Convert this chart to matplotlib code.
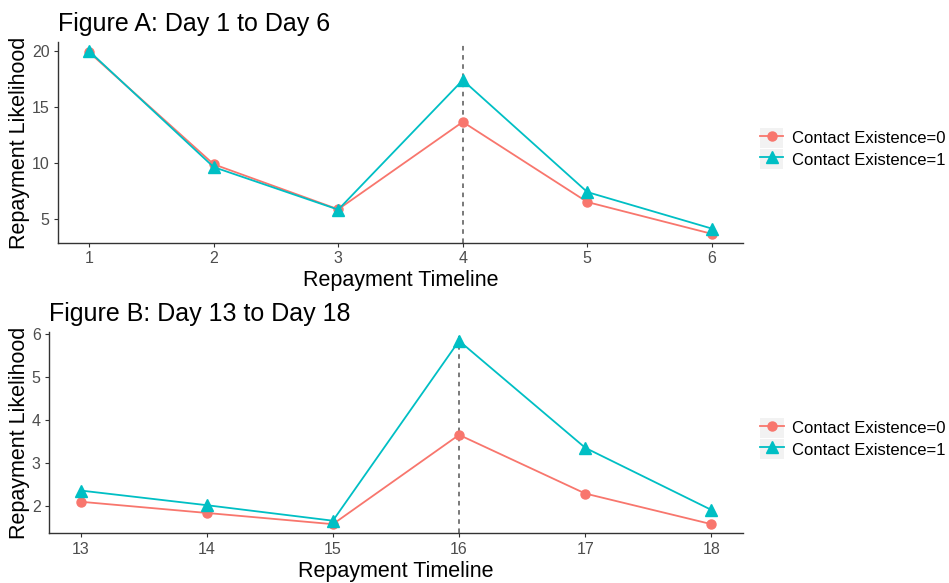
import matplotlib.pyplot as plt
from matplotlib.patches import Patch
from matplotlib.legend_handler import HandlerTuple

plt.rcParams['font.family'] = ['Liberation Sans', 'DejaVu Sans']

# Figure A data (days 1-6)
days_a = [1, 2, 3, 4, 5, 6]
contact0_a = [19.85, 9.85, 5.83, 13.63, 6.48, 3.64]
contact1_a = [19.95, 9.6, 5.8, 17.36, 7.37, 4.11]

# Figure B data (days 13-18)
days_b = [13, 14, 15, 16, 17, 18]
contact0_b = [2.11, 1.85, 1.59, 3.66, 2.30, 1.59]
contact1_b = [2.37, 2.03, 1.67, 5.84, 3.36, 1.92]

labels = ["Contact Existence=0", "Contact Existence=1"]
red = "#F8766D"
teal = "#00BFC4"

fig = plt.figure(figsize=(9.49, 5.83), dpi=100)
ax_a = fig.add_axes([0.0611, 0.5832, 0.7218, 0.3448])
ax_b = fig.add_axes([0.0516, 0.0852, 0.7313, 0.3459])


def draw_panel(ax, days, y0, y1, vline, title):
    ax.axvline(vline, color="#555555", linestyle=(0, (3, 3)), linewidth=1.1, zorder=1)
    l0, = ax.plot(days, y0, color=red, marker="o", markersize=6.5, linewidth=1.3, zorder=3)
    l1, = ax.plot(days, y1, color=teal, marker="^", markersize=8.5, linewidth=1.3, zorder=3)

    span = days[-1] - days[0]
    ax.set_xlim(days[0] - 0.05 * span, days[-1] + 0.05 * span)
    lo = min(min(y0), min(y1))
    hi = max(max(y0), max(y1))
    ax.set_ylim(lo - 0.05 * (hi - lo), hi + 0.05 * (hi - lo))
    ax.set_xticks(days)

    for side in ["top", "right"]:
        ax.spines[side].set_visible(False)
    for side in ["left", "bottom"]:
        ax.spines[side].set_color("#333333")
        ax.spines[side].set_linewidth(1.0)
    ax.tick_params(axis="both", colors="#333333", labelcolor="#4D4D4D",
                   labelsize=11.5, length=3, width=0.8, pad=3)

    ax.set_title(title, loc="left", fontsize=18, pad=8)
    ax.set_xlabel("Repayment Timeline", fontsize=15.5, labelpad=3)
    ax.set_ylabel("Repayment Likelihood", fontsize=15.5, labelpad=1.5)

    # grey key background like ggplot legend keys
    key_bg = Patch(facecolor="#F2F2F2", edgecolor="none")
    ax.legend([(key_bg, l0), (key_bg, l1)], labels,
              handler_map={tuple: HandlerTuple(ndivide=1, pad=0)},
              loc="center left", bbox_to_anchor=(1.025, 0.47), frameon=False,
              fontsize=12, handlelength=1.4, handleheight=1.45, handletextpad=0.5,
              labelspacing=0.1, borderaxespad=0, borderpad=0)


draw_panel(ax_a, days_a, contact0_a, contact1_a, 4, "Figure A: Day 1 to Day 6")
ax_a.set_yticks([5, 10, 15, 20])
draw_panel(ax_b, days_b, contact0_b, contact1_b, 16, "Figure B: Day 13 to Day 18")
ax_b.set_yticks([2, 3, 4, 5, 6])

fig.savefig("out.png", dpi=100)
